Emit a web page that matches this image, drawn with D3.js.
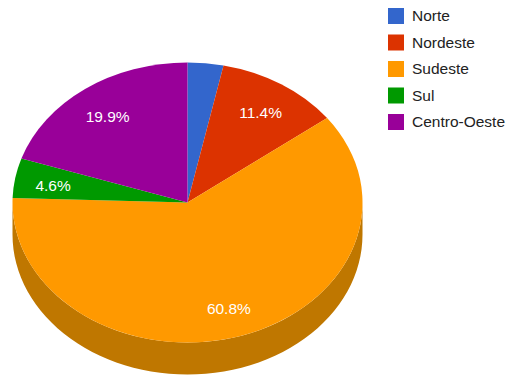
<!DOCTYPE html>
<html>
<head>
<meta charset="utf-8">
<script src="https://cdn.jsdelivr.net/npm/d3@7/dist/d3.min.js"></script>
<style>
  html, body { margin: 0; padding: 0; background: #fff; }
  svg { display: block; font-family: "Liberation Sans", Arial, sans-serif; }
</style>
</head>
<body>
<svg id="chart" width="509" height="383"></svg>
<script>
// Regional shares (%)
const regions = ["Norte", "Nordeste", "Sudeste", "Sul", "Centro-Oeste"];
const shares = [3.3, 11.4, 60.8, 4.6, 19.9];
const colors = ["#3366cc", "#dc3300", "#ff9900", "#009900", "#990099"];

const width = 509, height = 383;
const cx = 187.5, cy = 202.5;
const rx = 175, ry = 140;
const depth = 32;
const squash = ry / rx;

const svg = d3.select("#chart");

const pie = d3.pie().sort(null).value(d => d.value);
const data = regions.map((r, i) => ({ name: r, value: shares[i], color: colors[i] }));
const arcs = pie(data);

const total = d3.sum(shares);

// Point on the tilted ellipse for a clockwise angle measured from 12 o'clock
const pt = (a, dy = 0) => [cx + rx * Math.sin(a), cy - ry * Math.cos(a) + dy];

function sidePath(a0, a1) {
  // Visible rim lies between 90° and 270° (front half)
  const lo = Math.max(a0, Math.PI / 2), hi = Math.min(a1, 3 * Math.PI / 2);
  if (hi <= lo) return null;
  const p = d3.path();
  const n = 60;
  for (let i = 0; i <= n; i++) {
    const [x, y] = pt(lo + (hi - lo) * i / n);
    i === 0 ? p.moveTo(x, y) : p.lineTo(x, y);
  }
  for (let i = n; i >= 0; i--) {
    const [x, y] = pt(lo + (hi - lo) * i / n, depth);
    p.lineTo(x, y);
  }
  p.closePath();
  return p.toString();
}

const shade = c => { const k = d3.rgb(c); return d3.rgb(k.r * 0.75, k.g * 0.78, k.b * 0.75).toString(); };

// Rim
svg.append("g").selectAll("path")
  .data(arcs.filter(d => sidePath(d.startAngle, d.endAngle)))
  .join("path")
  .attr("d", d => sidePath(d.startAngle, d.endAngle))
  .attr("fill", d => shade(d.data.color));

// Top face: circular arcs flattened into an ellipse
const arc = d3.arc().innerRadius(0).outerRadius(rx);
const face = svg.append("g").attr("transform", `translate(${cx},${cy}) scale(1,${squash})`);
face.selectAll("path")
  .data(arcs)
  .join("path")
  .attr("d", arc)
  .attr("fill", d => d.data.color);

// Percentage labels
const labelArc = d3.arc().innerRadius(rx * 0.56).outerRadius(rx);
svg.append("g").selectAll("text")
  .data(arcs.filter(d => d.data.value / total > 0.04))
  .join("text")
  .attr("x", d => cx + labelArc.centroid(d)[0])
  .attr("y", d => cy + 2.5 + labelArc.centroid(d)[1] * squash)
  .attr("dy", "0.35em")
  .attr("text-anchor", "middle")
  .attr("fill", "#ffffff")
  .attr("font-size", 15.5)
  .text(d => (d.data.value / total * 100).toFixed(1) + "%");

// Legend
const legend = svg.append("g").attr("transform", "translate(388,8)");
const rows = legend.selectAll("g")
  .data(data)
  .join("g")
  .attr("transform", (d, i) => `translate(0,${i * 26.5})`);
rows.append("rect")
  .attr("width", 16).attr("height", 16)
  .attr("fill", d => d.color);
rows.append("text")
  .attr("x", 24).attr("y", 8).attr("dy", "0.35em")
  .attr("font-size", 15.5)
  .attr("fill", "#222222")
  .text(d => d.name);
</script>
</body>
</html>
